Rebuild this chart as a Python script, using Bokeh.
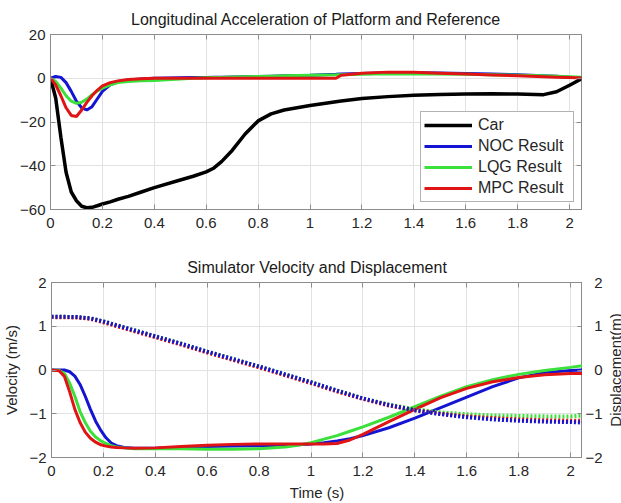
import math
from bokeh.plotting import figure
from bokeh.layouts import column, row
from bokeh.models import LinearAxis, Range1d, FixedTicker, Label
from bokeh.embed import file_html
from bokeh.resources import INLINE

FONT = "Liberation Sans"

# ---------------- data ----------------
x_ticks = [0, 0.2, 0.4, 0.6, 0.8, 1, 1.2, 1.4, 1.6, 1.8, 2]
x_tick_labels = ["0", "0.2", "0.4", "0.6", "0.8", "1", "1.2", "1.4", "1.6", "1.8", "2"]
acc_y_ticks = [-60, -40, -20, 0, 20]
vel_y_ticks = [-2, -1, 0, 1, 2]
disp_y_ticks = [-2, -1, 0, 1, 2]

series_names = ["Car", "NOC Result", "LQG Result", "MPC Result"]

t_acc = [0, 0.02, 0.04, 0.06, 0.08, 0.1, 0.12, 0.14, 0.16, 0.18, 0.2, 0.23, 0.26, 0.3,
         0.35, 0.4, 0.5, 0.55, 0.6, 0.63, 0.66, 0.7, 0.75, 0.8, 0.85, 0.9, 1.0, 1.1, 1.12,
         1.2, 1.3, 1.4, 1.5, 1.6, 1.7, 1.8, 1.9, 1.95, 2.0, 2.05]
car_acc = [0, -9, -27, -43, -52, -56, -58.5, -59.2, -59, -58.3, -57.5, -56.5, -55.3, -54,
           -52, -50, -46.5, -44.8, -42.8, -41, -38, -33, -25.5, -19.5, -16.3, -14.5, -12.5,
           -10.7, -10.4, -9.3, -8.4, -7.8, -7.4, -7.2, -7.1, -7.2, -7.5, -6.2, -3.2, 0]
noc_acc = [0, 0.8, 0.4, -2, -6, -10.5, -13.5, -14.5, -13, -9.5, -6, -3, -1.5, -0.8,
           -0.3, 0, 0.2, 0.3, 0.4, 0.45, 0.5, 0.6, 0.7, 0.8, 0.95, 1.1, 1.4, 1.8, 1.9,
           2.2, 2.5, 2.5, 2.4, 2.2, 1.9, 1.6, 1.2, 0.9, 0.5, 0.2]
lqg_acc = [0, -1.5, -4.5, -8, -10.5, -11.5, -11, -9.5, -7.5, -5.8, -4.5, -3, -2, -1.5,
           -1.2, -1, -0.3, 0, 0.2, 0.3, 0.4, 0.6, 0.7, 0.8, 0.95, 1.1, 1.4, 1.6, 1.65,
           1.8, 2, 2, 1.9, 1.8, 1.6, 1.4, 1.1, 0.9, 0.7, 0.5]
mpc_acc = [0, -3, -8, -13.5, -17, -17.5, -14.5, -11, -8, -5.5, -3.5, -2, -1.2, -0.6,
           -0.2, 0, 0, 0, 0, 0, 0, 0, 0, 0, 0, 0, 0, 0, 1.4,
           2.3, 2.8, 2.7, 2.3, 1.9, 1.5, 1.1, 0.7, 0.5, 0.3, 0.1]

t_vel = [0, 0.03, 0.05, 0.07, 0.09, 0.11, 0.13, 0.15, 0.17, 0.19, 0.21, 0.23, 0.25, 0.28,
         0.32, 0.4, 0.5, 0.6, 0.7, 0.8, 0.9, 0.95, 1.0, 1.05, 1.1, 1.15, 1.2, 1.3, 1.4,
         1.5, 1.6, 1.7, 1.8, 1.9, 2.0, 2.05]
noc_vel = [0, 0, 0, -0.04, -0.14, -0.33, -0.6, -0.9, -1.17, -1.38, -1.55, -1.67, -1.73, -1.77,
           -1.79, -1.79, -1.77, -1.75, -1.74, -1.73, -1.72, -1.71, -1.69, -1.66, -1.62, -1.57,
           -1.5, -1.32, -1.1, -0.86, -0.62, -0.38, -0.18, -0.06, -0.01, 0.0]
lqg_vel = [0, -0.01, -0.08, -0.3, -0.6, -0.95, -1.2, -1.4, -1.53, -1.62, -1.68, -1.73, -1.76,
           -1.78, -1.8, -1.8, -1.8, -1.81, -1.81, -1.8, -1.76, -1.72, -1.66, -1.58, -1.5, -1.4,
           -1.3, -1.08, -0.84, -0.6, -0.38, -0.22, -0.1, -0.01, 0.06, 0.1]
mpc_vel = [0, -0.02, -0.15, -0.5, -0.9, -1.2, -1.42, -1.56, -1.65, -1.71, -1.74, -1.76, -1.77,
           -1.78, -1.79, -1.78, -1.75, -1.72, -1.7, -1.69, -1.69, -1.69, -1.69, -1.69, -1.68,
           -1.6, -1.47, -1.18, -0.9, -0.63, -0.42, -0.27, -0.17, -0.11, -0.08, -0.08]

t_disp = [0, 0.1, 0.15, 0.2, 0.3, 0.4, 0.5, 0.6, 0.7, 0.8, 0.9, 1.0, 1.1, 1.2, 1.3, 1.4,
          1.5, 1.6, 1.7, 1.8, 1.9, 2.0, 2.05]
noc_disp = [1.22, 1.21, 1.18, 1.11, 0.94, 0.77, 0.6, 0.42, 0.25, 0.08, -0.1, -0.28, -0.47,
            -0.65, -0.8, -0.92, -1.01, -1.08, -1.13, -1.16, -1.18, -1.19, -1.2]
lqg_disp = [1.22, 1.21, 1.18, 1.11, 0.94, 0.77, 0.6, 0.42, 0.25, 0.08, -0.1, -0.28, -0.47,
            -0.65, -0.79, -0.9, -0.97, -1.01, -1.04, -1.05, -1.06, -1.06, -1.04]
mpc_disp = [1.21, 1.2, 1.17, 1.09, 0.92, 0.75, 0.58, 0.4, 0.23, 0.06, -0.12, -0.3, -0.49,
            -0.66, -0.81, -0.92, -1.0, -1.06, -1.1, -1.13, -1.15, -1.16, -1.16]

disp_axis_title = "Displacement(m)"

# ---------------- style ----------------
C_CAR = "#000000"
C_NOC = "#1414d2"
C_LQG = "#3be03b"
C_MPC = "#e01414"
TXT = "#262626"
FRAME = "#8c8c8c"
GRID = "#e2e2e2"
FW, FH = 531, 175
B_TOP, B_BOTTOM = 36, 46


def style(p, title_text):
    p.title.text = title_text
    p.title.text_font = FONT
    p.title.text_font_size = "16px"
    p.title.text_font_style = "normal"
    p.title.text_color = "#1a1a1a"
    p.title.align = "center"
    p.title.standoff = 14
    p.outline_line_color = FRAME
    p.outline_line_width = 1
    p.background_fill_color = "white"
    p.border_fill_color = "white"
    for ax in p.xaxis + p.yaxis:
        ax.major_label_text_font = FONT
        ax.major_label_text_font_size = "15px"
        ax.major_label_text_color = TXT
        ax.axis_label_text_font = FONT
        ax.axis_label_text_font_size = "15px"
        ax.axis_label_text_font_style = "normal"
        ax.axis_label_text_color = TXT
        ax.axis_line_color = FRAME
        ax.major_tick_line_color = FRAME
        ax.major_tick_in = 5
        ax.major_tick_out = 0
        ax.minor_tick_line_color = None
    p.xaxis.major_label_standoff = 8
    p.yaxis.major_label_standoff = 5
    p.xgrid.grid_line_color = GRID
    p.ygrid.grid_line_color = GRID


def tick_only_axis(p, side, ticks, y_range_name=None):
    kw = {}
    if y_range_name:
        kw["y_range_name"] = y_range_name
    ax = LinearAxis(ticker=FixedTicker(ticks=ticks), **kw)
    ax.major_label_text_font_size = "0px"
    ax.major_label_text_color = None
    ax.major_label_standoff = 0
    ax.axis_line_color = None
    ax.major_tick_line_color = FRAME
    ax.major_tick_in = 5
    ax.major_tick_out = 0
    ax.minor_tick_line_color = None
    ax.minor_tick_in = 0
    ax.minor_tick_out = 0
    p.add_layout(ax, side)
    return ax


x_overrides = {v: s for v, s in zip(x_ticks, x_tick_labels)}

# ---------------- top figure ----------------
p1 = figure(frame_width=FW, frame_height=FH, output_backend="svg", toolbar_location=None,
            x_range=Range1d(0, 2.046), y_range=Range1d(-60, 20),
            min_border_left=50, min_border_right=40, min_border_top=34, min_border_bottom=37)
p1.xaxis.ticker = FixedTicker(ticks=x_ticks)
p1.xaxis.major_label_overrides = x_overrides
p1.yaxis.ticker = FixedTicker(ticks=acc_y_ticks)
p1.xgrid.ticker = FixedTicker(ticks=x_ticks)
p1.ygrid.ticker = FixedTicker(ticks=acc_y_ticks)
style(p1, "Longitudinal Acceleration of Platform and Reference")
tick_only_axis(p1, "above", x_ticks)
tick_only_axis(p1, "right", acc_y_ticks)

p1.line(t_acc, car_acc, line_color=C_CAR, line_width=3.5, legend_label=series_names[0])
p1.line(t_acc, noc_acc, line_color=C_NOC, line_width=3, legend_label=series_names[1])
p1.line(t_acc, lqg_acc, line_color=C_LQG, line_width=3, legend_label=series_names[2])
p1.line(t_acc, mpc_acc, line_color=C_MPC, line_width=3, legend_label=series_names[3])

lg = p1.legend[0]
lg.location = "bottom_right"
lg.margin = 7
lg.padding = 3
lg.spacing = 1
lg.label_text_font = FONT
lg.label_text_font_size = "16px"
lg.label_text_color = TXT
lg.label_height = 20
lg.glyph_height = 20
lg.glyph_width = 48
lg.label_standoff = 6
lg.label_width = 92
lg.border_line_color = "#666666"
lg.border_line_width = 1
lg.background_fill_alpha = 1.0

# ---------------- bottom figure ----------------
p2 = figure(frame_width=FW, frame_height=FH, output_backend="svg", toolbar_location=None,
            x_range=Range1d(0, 2.046), y_range=Range1d(-2, 2),
            min_border_left=50, min_border_right=0, min_border_top=B_TOP,
            min_border_bottom=B_BOTTOM)
p2.extra_y_ranges = {"disp": Range1d(-2, 2)}
p2.xaxis.ticker = FixedTicker(ticks=x_ticks)
p2.xaxis.major_label_overrides = x_overrides
p2.xaxis.axis_label = "Time (s)"
p2.yaxis.ticker = FixedTicker(ticks=vel_y_ticks)
p2.yaxis.axis_label = "Velocity (m/s)"
p2.xgrid.ticker = FixedTicker(ticks=x_ticks)
p2.ygrid.ticker = FixedTicker(ticks=vel_y_ticks)
style(p2, "Simulator Velocity and Displacement")
p2.xaxis.axis_label_standoff = 5
p2.yaxis.axis_label_standoff = 6
tick_only_axis(p2, "above", x_ticks)
tick_only_axis(p2, "right", disp_y_ticks, "disp")

p2.line(t_vel, noc_vel, line_color=C_NOC, line_width=3)
p2.line(t_vel, lqg_vel, line_color=C_LQG, line_width=3)
p2.line(t_vel, mpc_vel, line_color=C_MPC, line_width=3)
p2.line(t_disp, lqg_disp, line_color=C_LQG, line_width=4, line_dash="2 2", y_range_name="disp")
p2.line(t_disp, mpc_disp, line_color=C_MPC, line_width=4, line_dash="2 2", y_range_name="disp")
p2.line(t_disp, noc_disp, line_color=C_NOC, line_width=4, line_dash="2 2", y_range_name="disp")

# right-hand displacement scale: tick labels plus title reading bottom to top
strip = figure(frame_width=19, frame_height=FH, output_backend="svg", toolbar_location=None,
               x_range=Range1d(0, 1), y_range=Range1d(-2, 2), x_axis_type=None,
               min_border_left=21, min_border_right=0, min_border_top=B_TOP,
               min_border_bottom=B_BOTTOM, outline_line_color=None)
strip.ygrid.visible = False
sax = strip.yaxis[0]
sax.ticker = FixedTicker(ticks=disp_y_ticks)
sax.major_label_text_font = FONT
sax.major_label_text_font_size = "15px"
sax.major_label_text_color = TXT
sax.major_label_standoff = 2
sax.major_tick_in = 0
sax.major_tick_out = 0
sax.minor_tick_in = 0
sax.minor_tick_out = 0
sax.major_tick_line_color = None
sax.minor_tick_line_color = None
sax.axis_line_color = None
strip.add_layout(Label(x=2.4, y=FH / 2, x_units="screen", y_units="screen",
                       text=disp_axis_title, angle=math.pi / 2, text_align="center",
                       text_baseline="top", text_font=FONT, text_font_size="15px",
                       text_color=TXT))

layout = column(p1, row(p2, strip, spacing=0), spacing=0)
open("out.html", "w").write(file_html(layout, INLINE))
